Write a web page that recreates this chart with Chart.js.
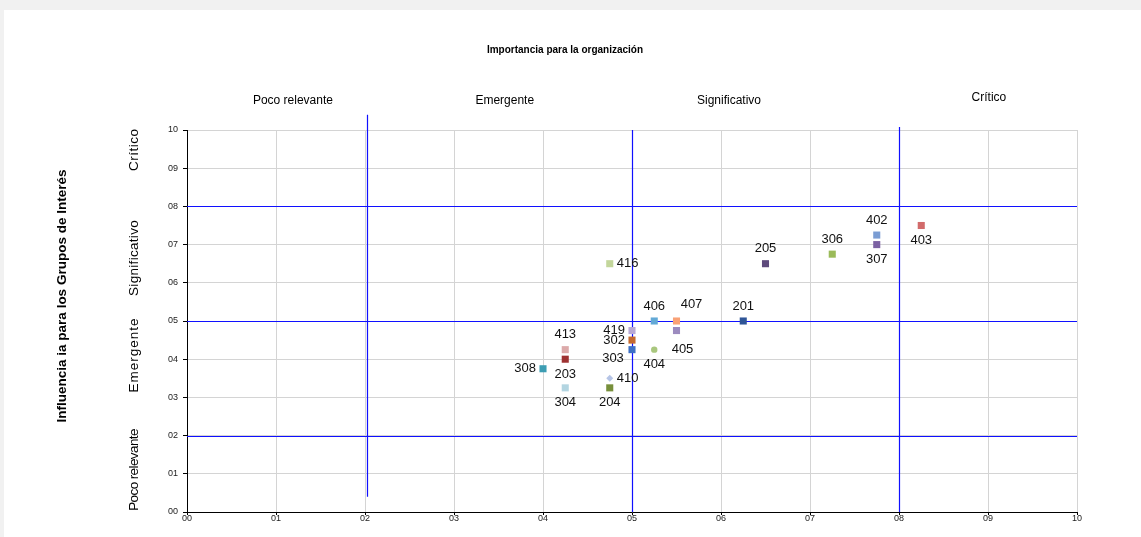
<!DOCTYPE html>
<html>
<head>
<meta charset="utf-8">
<script src="https://cdn.jsdelivr.net/npm/chart.js@4.4.0/dist/chart.umd.min.js"></script>
<style>
  body { margin: 0; background: #f1f1f1; }
  #wrap { position: absolute; left: 4px; top: 10px; width: 1137px; height: 527px; background: #fff; }
</style>
</head>
<body>
<div id="wrap"><canvas id="matriz" width="1137" height="527"></canvas></div>
<script>
// topics of the materiality matrix
const codes = ['416', '406', '407', '405', '419', '302', '303', '404', '413', '203',
               '308', '410', '304', '204', '205', '306', '402', '307', '403', '201'];
const importancia = [4.75, 5.25, 5.5, 5.5, 5.0, 5.0, 5.0, 5.25, 4.25, 4.25,
                     4.0, 4.75, 4.25, 4.75, 6.5, 7.25, 7.75, 7.75, 8.25, 6.25];
const influencia = [6.5, 5.0, 5.0, 4.75, 4.75, 4.5, 4.25, 4.25, 4.25, 4.0,
                    3.75, 3.5, 3.25, 3.25, 6.5, 6.75, 7.25, 7.0, 7.5, 5.0];

const zoneNames = ['Poco relevante', 'Emergente', 'Significativo', 'Crítico'];
const xLimits = [2.02, 5, 8];
const yLimits = [2, 5, 8];
const xZoneCenters = [1.19, 3.57, 6.09, 9.01];
const yZoneCenters = [1.1, 4.11, 6.65, 9.48];

// styles
const pointColors = ['#c3d69b', '#63a9d6', '#f9a176', '#9c8bbf', '#b8a9d4', '#c5692d', '#3d6fc4', '#a9c77e', '#dcaaaa', '#9e3232',
                     '#3d9db3', '#b5c4e6', '#b3d5e1', '#778f3b', '#5e4a7c', '#9bbb59', '#7b9dd3', '#7c62a3', '#d26b6b', '#2f5597'];
const pointShapes = ['rect', 'rect', 'rect', 'rect', 'rect', 'rect', 'rect', 'circle', 'rect', 'rect',
                     'rect', 'rectRot', 'rect', 'rect', 'rect', 'rect', 'rect', 'rect', 'rect', 'rect'];
const labelAnchors = ['right', 'top', 'topRight', 'bottomRight', 'left', 'left', 'bottomLeft', 'bottom', 'top', 'bottom',
                      'left', 'right', 'bottom', 'bottom', 'top', 'top', 'top', 'bottom', 'bottom', 'top'];
const yZoneSpacing = ['-0.6px', '1px', '0.3px', '0.5px'];

const anchorOffsets = {
  top: [0, -15, 'center'],
  bottom: [0, 15, 'center'],
  left: [-7, 0, 'right'],
  right: [7, 0, 'left'],
  topRight: [15, -17, 'center'],
  bottomRight: [6, 19, 'center'],
  bottomLeft: [-19, 9, 'center']
};

const FONT = '"Liberation Sans", Arial, sans-serif';

const matrixPlugin = {
  id: 'matrix',
  beforeDatasetsDraw(chart) {
    const {ctx, chartArea: a, scales: {x, y}} = chart;
    ctx.save();
    ctx.strokeStyle = '#1010ff';
    ctx.lineWidth = 1.2;
    yLimits.forEach(v => {
      const py = Math.round(y.getPixelForValue(v)) + 0.5;
      ctx.beginPath();
      ctx.moveTo(a.left, py);
      ctx.lineTo(a.right, py);
      ctx.stroke();
    });
    // vertical limits (the first one sticks out a bit at the top like in the original)
    const spans = [[10.4, 0.4], [10, 0], [10.08, 0]];
    xLimits.forEach((v, i) => {
      const px = Math.round(x.getPixelForValue(v)) + 0.5;
      ctx.beginPath();
      ctx.moveTo(px, y.getPixelForValue(spans[i][0]));
      ctx.lineTo(px, y.getPixelForValue(spans[i][1]));
      ctx.stroke();
    });
    ctx.restore();
  },
  afterDatasetsDraw(chart) {
    const {ctx} = chart;
    const meta = chart.getDatasetMeta(0);
    ctx.save();
    ctx.font = '13px ' + FONT;
    ctx.fillStyle = '#111';
    ctx.textBaseline = 'middle';
    meta.data.forEach((pt, i) => {
      const [dx, dy, align] = anchorOffsets[labelAnchors[i]];
      ctx.textAlign = align;
      ctx.fillText(codes[i], pt.x + dx, pt.y + dy);
    });
    ctx.restore();
  },
  afterDraw(chart) {
    const {ctx, scales: {x, y}} = chart;
    ctx.save();
    ctx.fillStyle = '#000';
    ctx.textAlign = 'center';
    ctx.textBaseline = 'middle';

    ctx.font = 'bold 10px ' + FONT;
    ctx.fillText('Importancia para la organización', 561, 40);

    ctx.font = '12px ' + FONT;
    zoneNames.forEach((name, i) => {
      ctx.fillText(name, x.getPixelForValue(xZoneCenters[i]), i === 3 ? 88 : 91);
    });

    ctx.font = '13.5px ' + FONT;
    zoneNames.forEach((name, i) => {
      ctx.save();
      ctx.letterSpacing = yZoneSpacing[i];
      ctx.translate(130, y.getPixelForValue(yZoneCenters[i]));
      ctx.rotate(-Math.PI / 2);
      ctx.fillText(name, 0, 0);
      ctx.restore();
    });

    ctx.font = 'bold 13.5px ' + FONT;
    ctx.save();
    ctx.translate(58, 286);
    ctx.rotate(-Math.PI / 2);
    ctx.fillText('Influencia ia para los Grupos de Interés', 0, 0);
    ctx.restore();
    ctx.restore();
  }
};

const twoDigits = v => String(v).padStart(2, '0');

new Chart(document.getElementById('matriz'), {
  type: 'scatter',
  data: {
    datasets: [{
      data: importancia.map((v, i) => ({x: v, y: influencia[i]})),
      backgroundColor: pointColors,
      pointStyle: pointShapes,
      pointRadius: pointShapes.map(s => s === 'rect' ? 5 : (s === 'circle' ? 3.2 : 3.5)),
      pointBorderWidth: 0
    }]
  },
  options: {
    responsive: false,
    animation: false,
    devicePixelRatio: 1,
    events: [],
    layout: { padding: { left: 0, top: 120, right: 64, bottom: 0 } },
    plugins: { legend: { display: false }, tooltip: { enabled: false } },
    scales: {
      x: {
        min: 0, max: 10,
        afterFit(scale) { scale.height = 25; },
        ticks: { stepSize: 1, callback: twoDigits, color: '#222', font: { size: 9, family: FONT }, padding: -2, maxRotation: 0 },
        grid: { color: '#d4d4d4', tickColor: '#000', tickLength: 3 },
        border: { color: '#000' }
      },
      y: {
        min: 0, max: 10,
        afterFit(scale) { scale.width = 183; },
        ticks: { stepSize: 1, callback: twoDigits, color: '#222', font: { size: 9, family: FONT }, padding: 5 },
        grid: { color: '#d4d4d4', tickColor: '#000', tickLength: 4 },
        border: { color: '#000' }
      }
    }
  },
  plugins: [matrixPlugin]
});
</script>
</body>
</html>
